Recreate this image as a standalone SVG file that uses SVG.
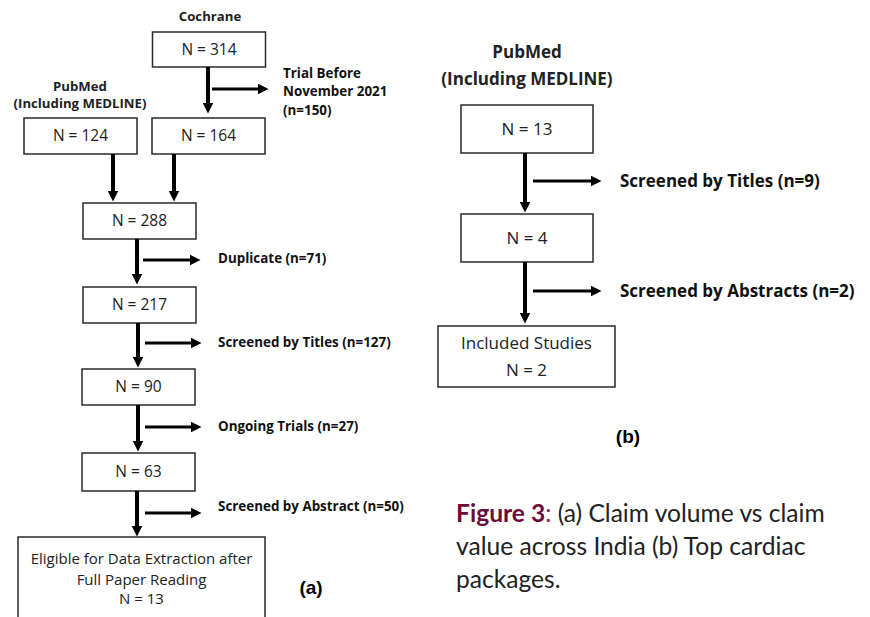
<svg xmlns="http://www.w3.org/2000/svg" width="870" height="617" viewBox="0 0 870 617">
<style>
.box{fill:#fff;stroke:#2a2a2a;stroke-width:1.5}
.nt{font-family:"Open Sans","Liberation Sans",sans-serif;font-size:15.5px;fill:#222;text-anchor:middle}
.ntb{font-family:"Open Sans","Liberation Sans",sans-serif;font-size:17px;fill:#222;text-anchor:middle}
.lb{font-family:"Open Sans","Liberation Sans",sans-serif;font-size:13.4px;font-weight:bold;fill:#111}
.lbr{font-family:"Open Sans","Liberation Sans",sans-serif;font-size:17px;font-weight:bold;fill:#111}
.hd{font-family:"Open Sans","Liberation Sans",sans-serif;font-size:13.2px;font-weight:bold;fill:#222;text-anchor:middle}
.hdr{font-family:"Open Sans","Liberation Sans",sans-serif;font-size:17px;font-weight:bold;fill:#222;text-anchor:middle}
.pl{font-family:"Liberation Sans",Arial,sans-serif;font-size:19px;font-weight:bold;fill:#000;text-anchor:middle}
.cap{font-family:Lato,"Open Sans",sans-serif;font-size:24.6px;fill:#222}
.v{stroke:#000;stroke-width:4;fill:none;marker-end:url(#ah)}
.h{stroke:#000;stroke-width:3;fill:none;marker-end:url(#ah)}
</style>
<defs>
<marker id="ah" markerUnits="userSpaceOnUse" markerWidth="12" markerHeight="12" refX="0.5" refY="5.5" orient="auto">
<path d="M0,0 L11,5.5 L0,11 z" fill="#000"/>
</marker>
</defs>
<rect width="870" height="617" fill="#fff"/>

<g id="panel-a-headers">
<text class="hd" x="210" y="21">Cochrane</text>
<text class="hd" x="80" y="91">PubMed</text>
<text class="hd" x="80" y="108">(Including MEDLINE)</text>
</g>
<g id="n314"><rect class="box" x="152.5" y="32" width="113" height="35"/><text class="nt" x="209" y="55">N = 314</text></g>
<g id="n124"><rect class="box" x="24" y="118" width="113" height="36"/><text class="nt" x="80.5" y="141">N = 124</text></g>
<g id="n164"><rect class="box" x="152" y="118" width="113" height="36"/><text class="nt" x="208.5" y="141">N = 164</text></g>
<g id="n288"><rect class="box" x="83" y="203" width="113" height="36"/><text class="nt" x="139.5" y="226">N = 288</text></g>
<g id="n217"><rect class="box" x="83" y="287" width="113" height="36"/><text class="nt" x="139.5" y="310">N = 217</text></g>
<g id="n90"><rect class="box" x="82" y="369" width="113" height="36"/><text class="nt" x="138.5" y="392">N = 90</text></g>
<g id="n63"><rect class="box" x="82" y="453" width="113" height="38"/><text class="nt" x="138.5" y="477">N = 63</text></g>
<g id="eligible"><rect class="box" x="18" y="537" width="247" height="100"/>
<text class="nt" x="141.5" y="564" style="font-size:15px">Eligible for Data Extraction after</text>
<text class="nt" x="141.5" y="585" style="font-size:15px">Full Paper Reading</text>
<text class="nt" x="141.5" y="604" style="font-size:15px">N = 13</text></g>

<g id="excl-a">
<text class="lb" x="283" y="78">Trial Before</text>
<text class="lb" x="283" y="96">November 2021</text>
<text class="lb" x="283" y="115">(n=150)</text>
<text class="lb" x="218" y="263">Duplicate (n=71)</text>
<text class="lb" x="218" y="347">Screened by Titles (n=127)</text>
<text class="lb" x="218" y="431">Ongoing Trials  (n=27)</text>
<text class="lb" x="218" y="511">Screened by Abstract (n=50)</text>
</g>
<text class="pl" x="311" y="594">(a)</text>

<g id="panel-b-headers">
<text class="hdr" x="527" y="58">PubMed</text>
<text class="hdr" x="527" y="85">(Including MEDLINE)</text>
</g>
<g id="b13"><rect class="box" x="461" y="105" width="132" height="48"/><text class="ntb" x="527" y="135">N = 13</text></g>
<g id="b4"><rect class="box" x="461" y="214" width="132" height="48"/><text class="ntb" x="527" y="244">N = 4</text></g>
<g id="bincl"><rect class="box" x="438" y="326" width="177" height="61"/>
<text class="ntb" x="526.5" y="349">Included Studies</text>
<text class="ntb" x="526.5" y="376">N = 2</text></g>
<g id="excl-b">
<text class="lbr" x="620" y="187">Screened by Titles (n=9)</text>
<text class="lbr" x="620" y="297">Screened by Abstracts (n=2)</text>
</g>
<text class="pl" x="628" y="443">(b)</text>

<g id="connectors">
<line class="v" x1="208" y1="67" x2="208" y2="103"/>
<line class="h" x1="212" y1="89" x2="258" y2="89"/>
<line class="v" x1="113" y1="154" x2="113" y2="191"/>
<line class="v" x1="174" y1="154" x2="174" y2="191"/>
<line class="v" x1="137" y1="239" x2="137" y2="274"/>
<line class="h" x1="143" y1="260" x2="190" y2="260"/>
<line class="v" x1="138" y1="323" x2="138" y2="357"/>
<line class="h" x1="145" y1="343" x2="191" y2="343"/>
<line class="v" x1="138" y1="405" x2="138" y2="441"/>
<line class="h" x1="145" y1="427" x2="191" y2="427"/>
<line class="v" x1="137" y1="491" x2="137" y2="526"/>
<line class="h" x1="145" y1="513" x2="191" y2="513"/>
<line class="v" x1="525" y1="153" x2="525" y2="202"/>
<line class="h" x1="533" y1="181" x2="591" y2="181"/>
<line class="v" x1="525" y1="262" x2="525" y2="313"/>
<line class="h" x1="533" y1="291" x2="591" y2="291"/>
</g>

<text class="cap" x="456" y="522"><tspan fill="#6b0d3b" font-weight="bold">Figure 3</tspan><tspan fill="#7a2a52">:</tspan> (a) Claim volume vs claim</text>
<text class="cap" x="456" y="555">value across India (b) Top cardiac</text>
<text class="cap" x="456" y="588">packages.</text>
</svg>
